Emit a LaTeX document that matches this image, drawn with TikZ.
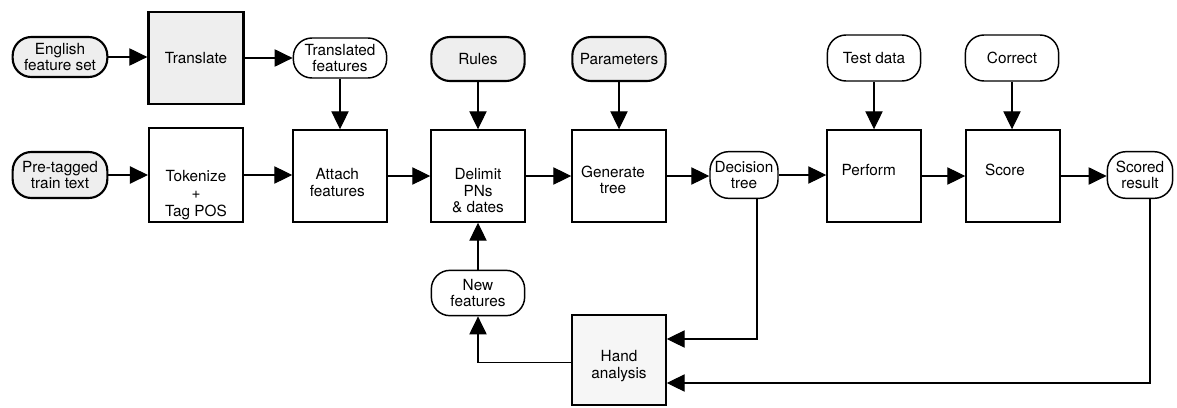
\documentclass[tikz,border=0pt]{standalone}
\usepackage{fontspec}
\setmainfont{TeX Gyre Heros}
\usetikzlibrary{arrows.meta}
\begin{document}
\begin{tikzpicture}[x=0.75pt,y=-0.75pt,
  every node/.style={font=\fontsize{11.5}{12.5}\selectfont, align=center, inner sep=0pt},
  oval/.style={draw, line width=1.1pt, rounded corners=14pt, minimum width=70pt, minimum height=33pt, fill=white},
  goval/.style={oval, line width=1.6pt, fill=gray!13},
  box/.style={draw, line width=1.1pt, minimum width=70.5pt, minimum height=69pt},
  arr/.style={line width=0.8pt, -{Triangle[length=13.5pt,width=13pt]}}
]
\useasboundingbox (0,0) rectangle (1177,407);

\node[goval, minimum width=71pt, minimum height=30pt] (eng) at (60,57) {English\\feature set};
\node[box, line width=2pt, fill=gray!13, minimum width=71pt] (trans) at (196,58) {Translate};
\node[oval, minimum height=30pt] (transf) at (340,58) {Translated\\features};
\node[goval, minimum width=71pt, minimum height=34.5pt] (pre) at (60,175) {Pre-tagged\\train text};
\node[box, line width=1.6pt, minimum height=71pt, label={[yshift=-15pt,font=\fontsize{11.5}{13}\selectfont]center:{Tokenize\\+\\Tag POS}}] (tok) at (196,175) {};
\node[box, label={[yshift=-5pt,xshift=-2pt]center:{Attach\\features}}] (att) at (340,176) {};
\node[goval] (rules) at (478,59) {Rules};
\node[goval] (params) at (619,59) {Parameters};
\node[box, label={[yshift=-11pt]center:{Delimit\\PNs\\\& dates}}] (delim) at (478,176) {};
\node[box, label={[yshift=-3pt,xshift=-4.5pt]center:{Generate\\tree}}] (gen) at (619,176) {};
\node[oval, minimum width=51pt, minimum height=35pt] (dec) at (744,175) {Decision\\tree};
\node[oval, minimum height=34.5pt] (test) at (874,58) {Test data};
\node[oval, minimum height=34.5pt] (corr) at (1012,58) {Correct};
\node[box, label={[yshift=4.5pt,xshift=-4pt]center:Perform}] (perf) at (874,176) {};
\node[box, label={[yshift=4.5pt,xshift=-6pt]center:Score}] (score) at (1013,176) {};
\node[oval, minimum width=49pt, minimum height=35pt] (scored) at (1140,175) {Scored\\result};
\node[oval, minimum height=34pt] (newf) at (478,293) {New\\features};
\node[box, fill=gray!7, minimum height=67.5pt, label={[yshift=-4.5pt]center:{Hand\\analysis}}] (hand) at (619,360) {};

\draw[arr] (eng.east) -- (eng.east -| trans.west);
\draw[arr] (trans.east) -- (trans.east -| transf.west);
\draw[arr] (transf.south) -- (transf.south |- att.north);
\draw[arr] (pre.east) -- (pre.east -| tok.west);
\draw[arr] (tok.east) -- (tok.east -| att.west);
\draw[arr] (att.east) -- (att.east -| delim.west);
\draw[arr] (delim.east) -- (delim.east -| gen.west);
\draw[arr] (gen.east) -- (gen.east -| dec.west);
\draw[arr] (dec.east) -- (dec.east -| perf.west);
\draw[arr] (perf.east) -- (perf.east -| score.west);
\draw[arr] (score.east) -- (score.east -| scored.west);
\draw[arr] (rules.south) -- (rules.south |- delim.north);
\draw[arr] (params.south) -- (params.south |- gen.north);
\draw[arr] (test.south) -- (test.south |- perf.north);
\draw[arr] (corr.south) -- (corr.south |- score.north);
\draw[arr] ([xshift=9.75pt]dec.south) |- ([yshift=15.75pt]hand.east);
\draw[arr] ([xshift=7.5pt]scored.south) |- ([yshift=-17.25pt]hand.east);
\draw[arr] ([yshift=-2pt]hand.west) -| (newf.south);
\draw[arr] (newf.north) -- (delim.south);
\end{tikzpicture}
\end{document}
